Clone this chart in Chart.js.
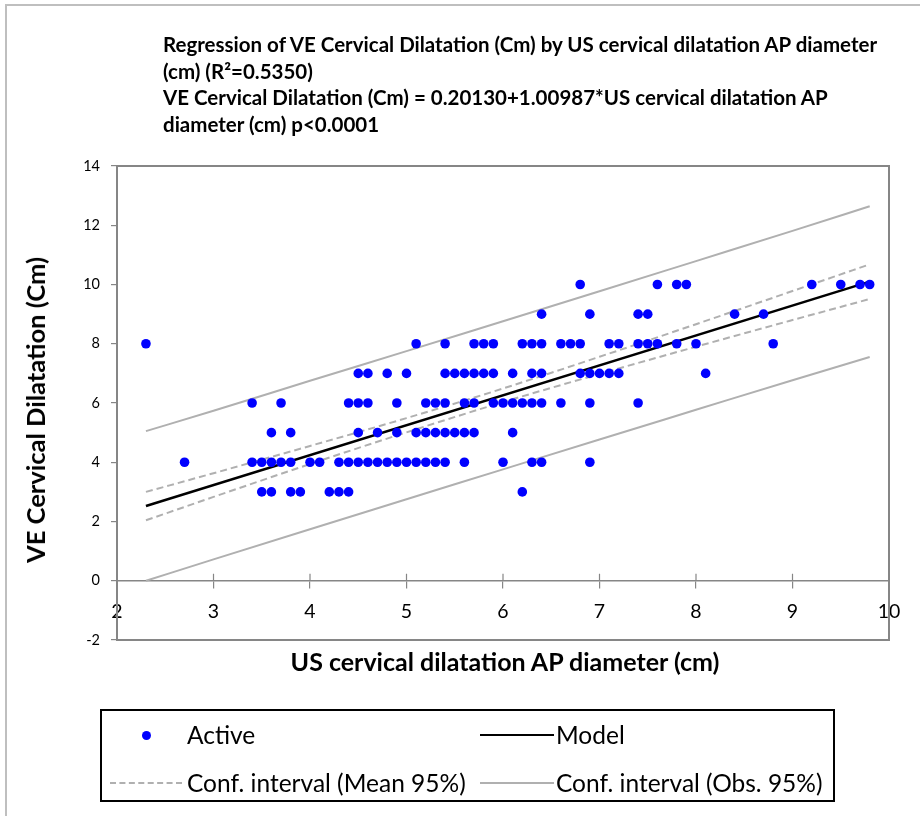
<!DOCTYPE html>
<html>
<head>
<meta charset="utf-8">
<script src="https://cdn.jsdelivr.net/npm/chart.js@4/dist/chart.umd.min.js"></script>
<style>
  html, body { margin: 0; padding: 0; background: #fff; }
  body { width: 920px; height: 816px; position: relative; overflow: hidden; font-family: Lato, "DejaVu Sans", sans-serif; color: #000; }
  #frame { position: absolute; left: 5px; top: 4px; width: 940px; height: 840px; border-left: 2px solid #bfbfbf; border-top: 2px solid #bfbfbf; }
  #chart { position: absolute; left: 0; top: 0; }
  #titulo { position: absolute; left: 163px; top: 31px; width: 750px; font-weight: bold; font-size: 20.5px; line-height: 26.5px; }
  #titulo-y { position: absolute; left: 35px; top: 410px; transform: translate(-50%, -50%) rotate(-90deg); white-space: nowrap; font-weight: bold; font-size: 25.5px; }
  #titulo-x { position: absolute; left: 505px; top: 661px; transform: translate(-50%, -50%); white-space: nowrap; font-weight: bold; font-size: 25px; }
  #legenda { position: absolute; left: 100px; top: 709px; width: 731px; height: 89px; border: 2px solid #000; box-sizing: content-box; font-size: 24.5px; }
  .item { position: absolute; white-space: nowrap; line-height: 28px; }
  .ponto { position: absolute; width: 9px; height: 9px; border-radius: 50%; background: #0000ff; }
  .linha { position: absolute; height: 0; }
</style>
</head>
<body>
<div id="frame"></div>
<canvas id="chart" width="920" height="816"></canvas>
<div id="titulo">Regression of VE Cervical Dilatation (Cm) by US cervical dilatation AP diameter<br>(cm) (R²=0.5350)<br>VE Cervical Dilatation (Cm) = 0.20130+1.00987*US cervical dilatation AP<br>diameter (cm) p&lt;0.0001</div>
<div id="titulo-y">VE Cervical Dilatation (Cm)</div>
<div id="titulo-x">US cervical dilatation AP diameter (cm)</div>
<div id="legenda">
  <div class="ponto" style="left:40px; top:20px;"></div>
  <div class="item" style="left:85px; top:10px;">Active</div>
  <div class="linha" style="left:378px; top:23px; width:74px; border-top:2.5px solid #000;"></div>
  <div class="item" style="left:454px; top:10px;">Model</div>
  <div class="linha" style="left:8px; top:71px; width:72px; border-top:2px dashed #b0b0b0;"></div>
  <div class="item" style="left:85px; top:58px;">Conf. interval (Mean 95%)</div>
  <div class="linha" style="left:378px; top:71px; width:74px; border-top:2px solid #b0b0b0;"></div>
  <div class="item" style="left:454px; top:58px;">Conf. interval (Obs. 95%)</div>
</div>
<script>
// Observações: diâmetro AP no US (cm) agrupado pela dilatação no toque (cm)
const pontosY3 = [3.5, 3.6, 3.8, 3.9, 4.2, 4.3, 4.4, 6.2];
const pontosY4 = [2.7, 3.4, 3.5, 3.6, 3.7, 3.8, 4.0, 4.1, 4.3, 4.4, 4.5, 4.6, 4.7, 4.8, 4.9, 5.0, 5.1, 5.2, 5.3, 5.4, 5.6, 6.0, 6.3, 6.4, 6.9];
const pontosY5 = [3.6, 3.8, 4.5, 4.7, 4.9, 5.1, 5.2, 5.3, 5.4, 5.5, 5.6, 5.7, 6.1];
const pontosY6 = [3.4, 3.7, 4.4, 4.5, 4.6, 4.9, 5.2, 5.3, 5.4, 5.6, 5.7, 5.9, 6.0, 6.1, 6.2, 6.3, 6.4, 6.6, 6.9, 7.4];
const pontosY7 = [4.5, 4.6, 4.8, 5.0, 5.4, 5.5, 5.6, 5.7, 5.8, 5.9, 6.1, 6.3, 6.4, 6.8, 6.9, 7.0, 7.1, 7.2, 8.1];
const pontosY8 = [2.3, 5.1, 5.4, 5.7, 5.8, 5.9, 6.2, 6.3, 6.4, 6.6, 6.7, 6.8, 7.1, 7.2, 7.4, 7.5, 7.6, 7.8, 8.0, 8.8];
const pontosY9 = [6.4, 6.9, 7.4, 7.5, 8.4, 8.7];
const pontosY10 = [6.8, 7.6, 7.8, 7.9, 9.2, 9.5, 9.7, 9.8];

// Reta do modelo e intervalos de confiança
const modeloX = [2.3, 9.8];
const modeloY = [2.524, 10.098];
const icX = [2.3, 3, 4, 5, 6, 7, 8, 9, 9.8];
const icMediaSup = [3.00, 3.63, 4.55, 5.49, 6.49, 7.56, 8.66, 9.78, 10.68];
const icMediaInf = [2.04, 2.83, 3.94, 5.01, 6.03, 6.98, 7.90, 8.80, 9.51];
const icObsSup = [5.05, 5.74, 6.75, 7.75, 8.76, 9.77, 10.79, 11.81, 12.64];
const icObsInf = [0.00, 0.72, 1.74, 2.75, 3.76, 4.77, 5.77, 6.77, 7.55];

const xTicks = [2, 3, 4, 5, 6, 7, 8, 9, 10];
const yTicks = [-2, 0, 2, 4, 6, 8, 10, 12, 14];

const grupos = [[3, pontosY3], [4, pontosY4], [5, pontosY5], [6, pontosY6], [7, pontosY7], [8, pontosY8], [9, pontosY9], [10, pontosY10]];
const pontos = [];
grupos.forEach(([y, xs]) => xs.forEach(x => pontos.push({ x: x, y: y })));

const pares = (xs, ys) => xs.map((x, i) => ({ x: x, y: ys[i] }));

const cinza = '#b0b0b0';
const eixo = '#868686';

// Moldura da área do gráfico e marcas do eixo x cruzando a linha do zero
const molduraPlugin = {
  id: 'moldura',
  afterDraw(chart) {
    const { ctx, chartArea: a, scales } = chart;
    ctx.save();
    ctx.strokeStyle = eixo;
    ctx.lineWidth = 2;
    ctx.strokeRect(a.left, a.top, a.right - a.left, a.bottom - a.top);
    const y0 = scales.y.getPixelForValue(0);
    ctx.lineWidth = 1.2;
    ctx.beginPath();
    xTicks.forEach(v => {
      const px = scales.x.getPixelForValue(v);
      ctx.moveTo(px, y0 - 7);
      ctx.lineTo(px, y0);
    });
    ctx.stroke();
    ctx.restore();
  }
};

const ctx = document.getElementById('chart').getContext('2d');
new Chart(ctx, {
  type: 'scatter',
  data: {
    datasets: [
      { label: 'Active', data: pontos, pointRadius: 4.8, pointHoverRadius: 4.8, backgroundColor: '#0000ff', borderWidth: 0, order: 0 },
      { label: 'Model', type: 'line', data: pares(modeloX, modeloY), borderColor: '#000', borderWidth: 2.5, pointRadius: 0, order: 1 },
      { label: 'Conf. interval (Mean 95%)', type: 'line', data: pares(icX, icMediaSup), borderColor: cinza, borderWidth: 2, borderDash: [7, 4], pointRadius: 0, cubicInterpolationMode: 'monotone', order: 2 },
      { label: 'Conf. interval (Mean 95%) inf', type: 'line', data: pares(icX, icMediaInf), borderColor: cinza, borderWidth: 2, borderDash: [7, 4], pointRadius: 0, cubicInterpolationMode: 'monotone', order: 2 },
      { label: 'Conf. interval (Obs. 95%)', type: 'line', data: pares(icX, icObsSup), borderColor: cinza, borderWidth: 2, pointRadius: 0, cubicInterpolationMode: 'monotone', order: 3 },
      { label: 'Conf. interval (Obs. 95%) inf', type: 'line', data: pares(icX, icObsInf), borderColor: cinza, borderWidth: 2, pointRadius: 0, cubicInterpolationMode: 'monotone', order: 3 }
    ]
  },
  options: {
    responsive: false,
    animation: false,
    events: [],
    layout: { padding: { top: 166, right: 31, bottom: 176, left: 0 } },
    plugins: { legend: { display: false }, tooltip: { enabled: false } },
    scales: {
      x: {
        type: 'linear',
        min: 2, max: 10,
        position: { y: 0 },
        afterBuildTicks: s => { s.ticks = xTicks.map(v => ({ value: v })); },
        grid: { drawOnChartArea: false, drawTicks: true, tickLength: 7, color: eixo, lineWidth: 1.2 },
        border: { color: eixo, width: 1.5 },
        ticks: { color: '#000', font: { family: 'Lato', size: 19.5 }, padding: 12, maxRotation: 0 }
      },
      y: {
        type: 'linear',
        min: -2, max: 14,
        afterBuildTicks: s => { s.ticks = yTicks.map(v => ({ value: v })); },
        afterFit: s => { s.width = 117; },
        grid: { drawOnChartArea: false, drawTicks: true, tickLength: 6, color: eixo, lineWidth: 1.2 },
        border: { color: eixo, width: 2 },
        ticks: { color: '#000', font: { family: 'Lato', size: 14.5 }, padding: 11 }
      }
    }
  },
  plugins: [molduraPlugin]
});
</script>
</body>
</html>
